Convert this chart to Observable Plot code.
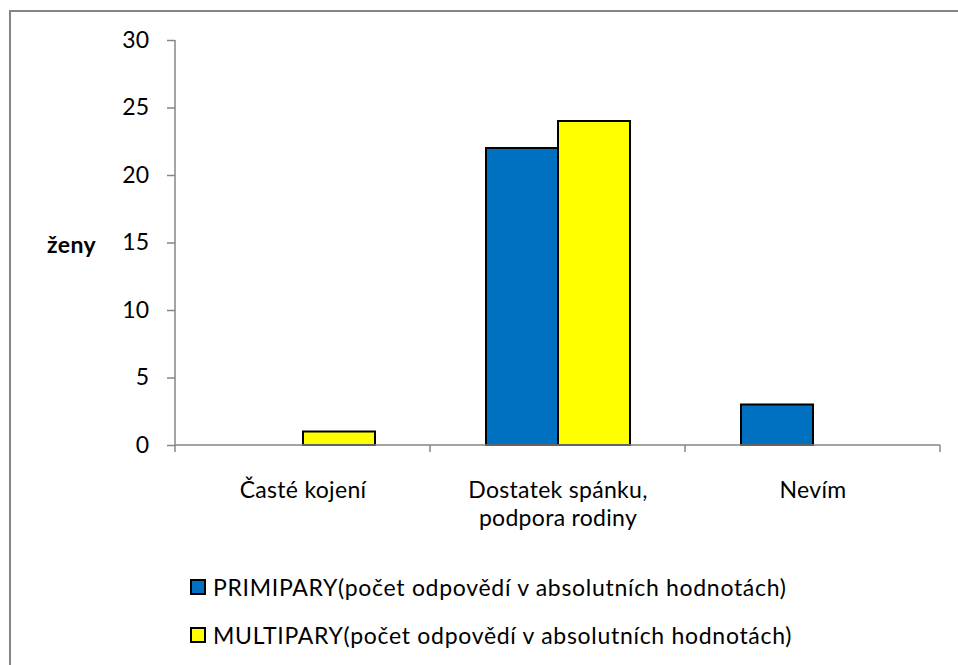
<!DOCTYPE html>
<html>
<head>
<meta charset="utf-8">
<script src="https://cdn.jsdelivr.net/npm/d3@7"></script>
<script src="https://cdn.jsdelivr.net/npm/@observablehq/plot@0.6"></script>
<style>
  body { margin: 0; background: #fff; overflow: hidden; font-family: Lato, "Open Sans", sans-serif; }
  #wrap { position: relative; width: 958px; height: 665px; overflow: hidden; }
  #frame { position: absolute; left: 9px; top: 10px; width: 1000px; height: 700px;
           border-left: 2px solid #868686; border-top: 2px solid #868686; }
  #chart { position: absolute; left: 0; top: 0; }
  #ylabel { position: absolute; left: 47px; top: 230px; font-size: 23px; font-weight: bold; color: #000; letter-spacing: 0.4px; }
  #legend { position: absolute; left: 190px; top: 571px; font-size: 23px; color: #000; }
  .item { display: flex; align-items: center; height: 32px; margin-bottom: 16px; letter-spacing: 0.7px; }
  .swatch { width: 12px; height: 12px; border: 2px solid #000; margin-right: 7px; flex: none; }
</style>
</head>
<body>
<div id="wrap">
  <div id="frame"></div>
  <div id="chart"></div>
  <div id="ylabel">ženy</div>
  <div id="legend"></div>
</div>
<script>
// Answer categories (x) and the two respondent groups
const categories = ["Časté kojení", "Dostatek spánku,\npodpora rodiny", "Nevím"];
const series = ["PRIMIPARY", "MULTIPARY"];
const seriesLabels = [
  "PRIMIPARY(počet odpovědí v absolutních hodnotách)",
  "MULTIPARY(počet odpovědí v absolutních hodnotách)"
];
// Number of women per answer
const primipary = [0, 22, 3];
const multipary = [1, 24, 0];
const yTicks = [0, 5, 10, 15, 20, 25, 30];
const colors = ["#0070C0", "#FFFF00"];

const values = [primipary, multipary];
const data = [];
categories.forEach((c, i) => {
  series.forEach((s, j) => data.push({category: c, series: s, value: values[j][i]}));
});

const width = 958, height = 540;
const axisGrey = "#868686";

const plot = Plot.plot({
  width, height,
  marginLeft: 174, marginRight: 18, marginTop: 40, marginBottom: 95,
  style: {fontFamily: "Lato, 'Open Sans', sans-serif", fontSize: "23px", color: "#000", background: "transparent"},
  fx: {domain: categories, padding: 0, axis: null},
  x: {domain: series, paddingInner: 0, paddingOuter: 0.75, axis: null},
  y: {domain: [0, 30], axis: null},
  color: {domain: series, range: colors},
  marks: [
    Plot.axisY({ticks: yTicks, tickSize: 8, tickPadding: 18, stroke: axisGrey, strokeWidth: 1.5, fill: "#000", label: null}),
    Plot.axisFx({anchor: "bottom", tickSize: 0, tickPadding: 33, lineHeight: 1.2, fill: "#000", label: null}),
    Plot.barY(data.filter(d => d.value > 0), {
      fx: "category", x: "series", y: "value",
      fill: "series", stroke: "#000", strokeWidth: 2
    })
  ]
});
plot.style.letterSpacing = "0.3px";
document.getElementById("chart").append(plot);

// Axis lines and category separators from the plot's own scales
const fx = plot.scale("fx");
const y = plot.scale("y");
const svg = d3.select(plot);
const left = fx.apply(categories[0]);
const right = fx.apply(categories[categories.length - 1]) + fx.bandwidth;
const y0 = y.apply(0);
const g = svg.append("g").attr("stroke", axisGrey).attr("stroke-width", 1.5);
g.append("line").attr("x1", left).attr("x2", left).attr("y1", y.apply(30)).attr("y2", y0);
g.append("line").attr("x1", left).attr("x2", right).attr("y1", y0).attr("y2", y0);
const bounds = categories.map(c => fx.apply(c)).concat([right]);
g.selectAll(".sep").data(bounds).join("line")
  .attr("x1", d => d).attr("x2", d => d).attr("y1", y0).attr("y2", y0 + 7);

// Legend
const legend = d3.select("#legend");
seriesLabels.forEach((label, i) => {
  const item = legend.append("div").attr("class", "item");
  item.append("div").attr("class", "swatch").style("background", colors[i]);
  item.append("span").text(label);
});
</script>
</body>
</html>
